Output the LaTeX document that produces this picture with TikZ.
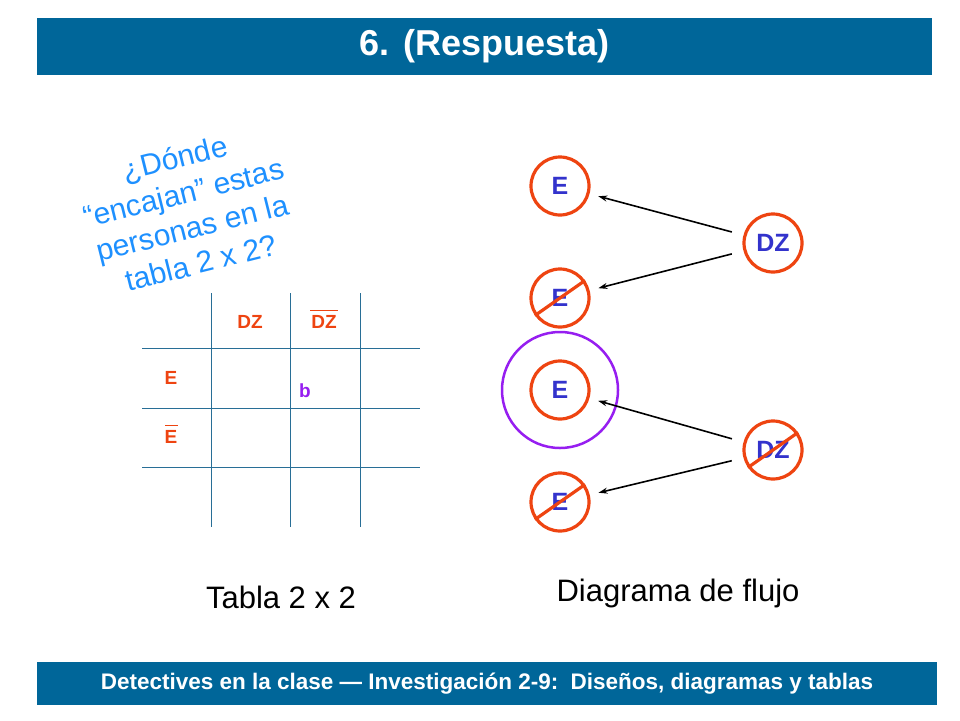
\documentclass[tikz,border=0pt]{standalone}
\usepackage{fontspec}
\setmainfont{Liberation Sans}
\usetikzlibrary{positioning,arrows.meta}
\definecolor{barblue}{RGB}{0,102,153}
\definecolor{qblue}{RGB}{30,144,255}
\definecolor{redor}{RGB}{238,68,17}
\definecolor{ink}{RGB}{51,51,204}
\definecolor{gridblue}{RGB}{40,110,150}
\definecolor{violet}{RGB}{150,30,240}
\tikzset{
  ring/.style={circle,draw=redor,line width=3.2pt,minimum size=58pt,inner sep=0pt,
    text=ink,font=\fontsize{25}{27}\selectfont\bfseries},
  tlabel/.style={text=redor,inner sep=1pt,font=\fontsize{19}{21}\selectfont\bfseries},
  crossed/.style={draw=redor,line width=3.2pt},
}
\begin{document}
\begin{tikzpicture}[x=1pt,y=-1pt,>={Stealth[length=9pt,width=6pt]}]
\useasboundingbox (0,0) rectangle (960,720);
% header and footer
\node[fill=barblue,text=white,minimum width=895pt,minimum height=57pt,
  font=\fontsize{36}{38}\selectfont\bfseries] (head) at (484.5,46.5) {6. (Respuesta)};
\node[fill=barblue,text=white,minimum width=900pt,minimum height=43pt,
  font=\fontsize{22.5}{24}\selectfont\bfseries] (foot) at (487,683.5)
  {Detectives en la clase --- Investigación 2-9:\, Diseños, diagramas y tablas};

% question
\node[text=qblue,rotate=14,align=center,font=\fontsize{30}{36}\selectfont] (quest) at (188,210)
  {¿Dónde\\``encajan'' estas\\personas en la\\tabla 2 x 2?};

% table
\foreach \x in {211,290,360} \draw[gridblue,line width=1pt] (\x,293) -- (\x,527);
\foreach \y in {348,408,467} \draw[gridblue,line width=1pt] (142,\y) -- (420,\y);
\node[tlabel] (dz) at (250,322) {DZ};
\node[tlabel] (dzn) at (324,322) {DZ};
\draw[redor,line width=1.5pt] ([shift={(0,-4)}]dzn.north west) -- ([shift={(0,-4)}]dzn.north east);
\node[tlabel] (e) at (171,378) {E};
\node[tlabel] (en) at (171,437) {E};
\draw[redor,line width=1.5pt] ([shift={(2,-4)}]en.north west) -- ([shift={(-1,-4)}]en.north east);
\node[text=violet,font=\fontsize{19}{21}\selectfont\bfseries] (b) at (305,391) {b};
\node[font=\fontsize{31}{33}\selectfont] (tabla) at (281,597) {Tabla 2 x 2};

% flow diagram
\node[ring] (e1) at (560,186) {E};
\node[ring] (e2) at (560,298) {E};
\node[ring] (e3) at (560,390) {E};
\node[ring] (e4) at (560,502) {E};
\node[ring] (dz1) at (773,243) {DZ};
\node[ring] (dz2) at (773,450) {DZ};
\node[circle,draw=violet,line width=2.5pt,minimum size=116pt] (pick) at (e3) {};
\draw[crossed] (e2.215) -- (e2.35);
\draw[crossed] (e4.215) -- (e4.35);
\draw[crossed] (dz2.215) -- (dz2.35);

\path[->,line width=1.6pt,shorten >=9pt,shorten <=12pt]
(dz1.165) edge (e1)
(dz1.195) edge (e2)
(dz2.165) edge (e3)
(dz2.195) edge (e4)
; %end path
\node[font=\fontsize{31}{33}\selectfont] (flujo) at (678,593) {Diagrama de flujo};
\end{tikzpicture}
\end{document}
